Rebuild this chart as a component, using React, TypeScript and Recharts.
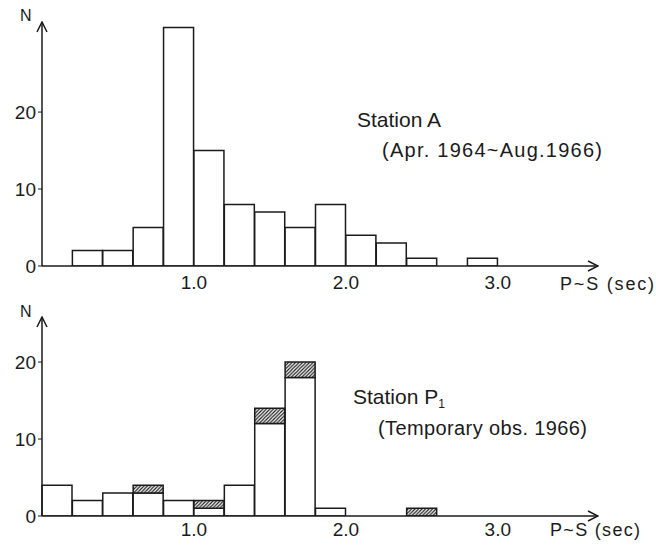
import React from 'react';
import { BarChart, Bar, XAxis, YAxis } from 'recharts';

// P~S time bins, 0.2 sec wide
const binStarts = [0, 0.2, 0.4, 0.6, 0.8, 1.0, 1.2, 1.4, 1.6, 1.8, 2.0, 2.2, 2.4, 2.6, 2.8, 3.0, 3.2, 3.4];
const stationA = [0, 2, 2, 5, 31, 15, 8, 7, 5, 8, 4, 3, 1, 0, 1, 0, 0, 0];
const stationPPlain = [4, 2, 3, 3, 2, 1, 4, 12, 18, 1, 0, 0, 0, 0, 0, 0, 0, 0];
const stationPHatched = [0, 0, 0, 1, 0, 1, 0, 2, 2, 0, 0, 0, 1, 0, 0, 0, 0, 0];
const xTicks = [1, 2, 3];
const yTicks = [0, 10, 20];

const bins = binStarts.map((s) => `${s.toFixed(1)}-${(s + 0.2).toFixed(1)}`);
const dataA = bins.map((bin, i) => ({ bin, start: binStarts[i], count: stationA[i] }));
const dataP = bins.map((bin, i) => ({
  bin,
  start: binStarts[i],
  plain: stationPPlain[i],
  hatched: stationPHatched[i],
}));

const font = '"Liberation Sans", Arial, sans-serif';
const ink = '#1b1b1b';
const W = 648;
const RIGHT = 58;

const Defs = ({ id }: { id: string }) => (
  <defs>
    <marker
      id={`arrow-${id}`}
      viewBox="0 0 12 12"
      markerWidth={12}
      markerHeight={12}
      refX={11}
      refY={6}
      markerUnits="userSpaceOnUse"
      orient="auto-start-reverse"
    >
      <path d="M1,1 L11,6 L1,11" fill="none" stroke={ink} strokeWidth={1.5} />
    </marker>
    <pattern id={`hatch-${id}`} patternUnits="userSpaceOnUse" width={3.5} height={3.5}>
      <rect width={3.5} height={3.5} fill="#fff" />
      <path d="M-1,1 L1,-1 M0,3.5 L3.5,0 M2.5,4.5 L4.5,2.5" stroke={ink} strokeWidth={1.2} />
    </pattern>
  </defs>
);

const tickFont = { fontSize: 19, fill: ink, fontFamily: font };

const Axes = ({ id, yMax, tickMargin }: { id: string; yMax: number; tickMargin: number }) => (
  <>
    <XAxis xAxisId="cat" dataKey="bin" hide height={0} padding={{ left: 0, right: 9 }} />
    <XAxis
      xAxisId="num"
      dataKey="start"
      type="number"
      domain={[0, 3.6]}
      allowDataOverflow
      ticks={xTicks}
      tickFormatter={(v: number) => v.toFixed(1)}
      padding={{ left: 0, right: 9 }}
      height={24}
      tickLine={false}
      tickMargin={tickMargin}
      tick={tickFont}
      axisLine={{ stroke: ink, strokeWidth: 1.5, markerEnd: `url(#arrow-${id})` }}
    />
    <YAxis
      domain={[0, yMax]}
      allowDataOverflow
      ticks={yTicks}
      width={30}
      tickSize={4}
      tickMargin={2}
      tick={tickFont}
      tickLine={{ stroke: ink }}
      axisLine={{ stroke: ink, strokeWidth: 1.5, markerStart: `url(#arrow-${id})` }}
    />
  </>
);

const textStyle = { fill: ink, fontFamily: font };

export default function App() {
  return (
    <div style={{ position: 'absolute', left: 8, top: 8, width: W, height: 532 }}>
      <BarChart
        width={W}
        height={292}
        data={dataA}
        margin={{ top: 14, right: RIGHT, left: 4, bottom: 10 }}
        barCategoryGap={0}
        barGap={0}
      >
        <Defs id="a" />
        {Axes({ id: 'a', yMax: 31.7, tickMargin: 4 })}
        <Bar
          xAxisId="cat"
          dataKey="count"
          fill="#fff"
          stroke={ink}
          strokeWidth={1.5}
          isAnimationActive={false}
        />
        <text x={12} y={13} fontSize={16} {...textStyle}>N</text>
        <text x={349} y={119} fontSize={21} {...textStyle}>Station A</text>
        <text x={374} y={149} fontSize={20} textLength={220} lengthAdjust="spacing" {...textStyle}>
          (Apr. 1964~Aug.1966)
        </text>
        <text x={552} y={282} fontSize={18} textLength={94} lengthAdjust="spacing" {...textStyle}>
          P~S (sec)
        </text>
      </BarChart>
      <BarChart
        width={W}
        height={240}
        data={dataP}
        margin={{ top: 17, right: RIGHT, left: 4, bottom: 0 }}
        barCategoryGap={0}
        barGap={0}
      >
        <Defs id="p" />
        {Axes({ id: 'p', yMax: 25.85, tickMargin: 1 })}
        <Bar
          xAxisId="cat"
          dataKey="plain"
          stackId="p"
          fill="#fff"
          stroke={ink}
          strokeWidth={1.5}
          isAnimationActive={false}
        />
        <Bar
          xAxisId="cat"
          dataKey="hatched"
          stackId="p"
          fill="url(#hatch-p)"
          stroke={ink}
          strokeWidth={1.5}
          isAnimationActive={false}
        />
        <text x={12} y={17} fontSize={16} {...textStyle}>N</text>
        <text x={345} y={104} fontSize={21} {...textStyle}>
          Station P<tspan fontSize={12} dy={4}>1</tspan>
        </text>
        <text x={370} y={135} fontSize={20} textLength={209} lengthAdjust="spacing" {...textStyle}>
          (Temporary obs. 1966)
        </text>
        <text x={542} y={236} fontSize={18} textLength={90} lengthAdjust="spacing" {...textStyle}>
          P~S (sec)
        </text>
      </BarChart>
    </div>
  );
}
